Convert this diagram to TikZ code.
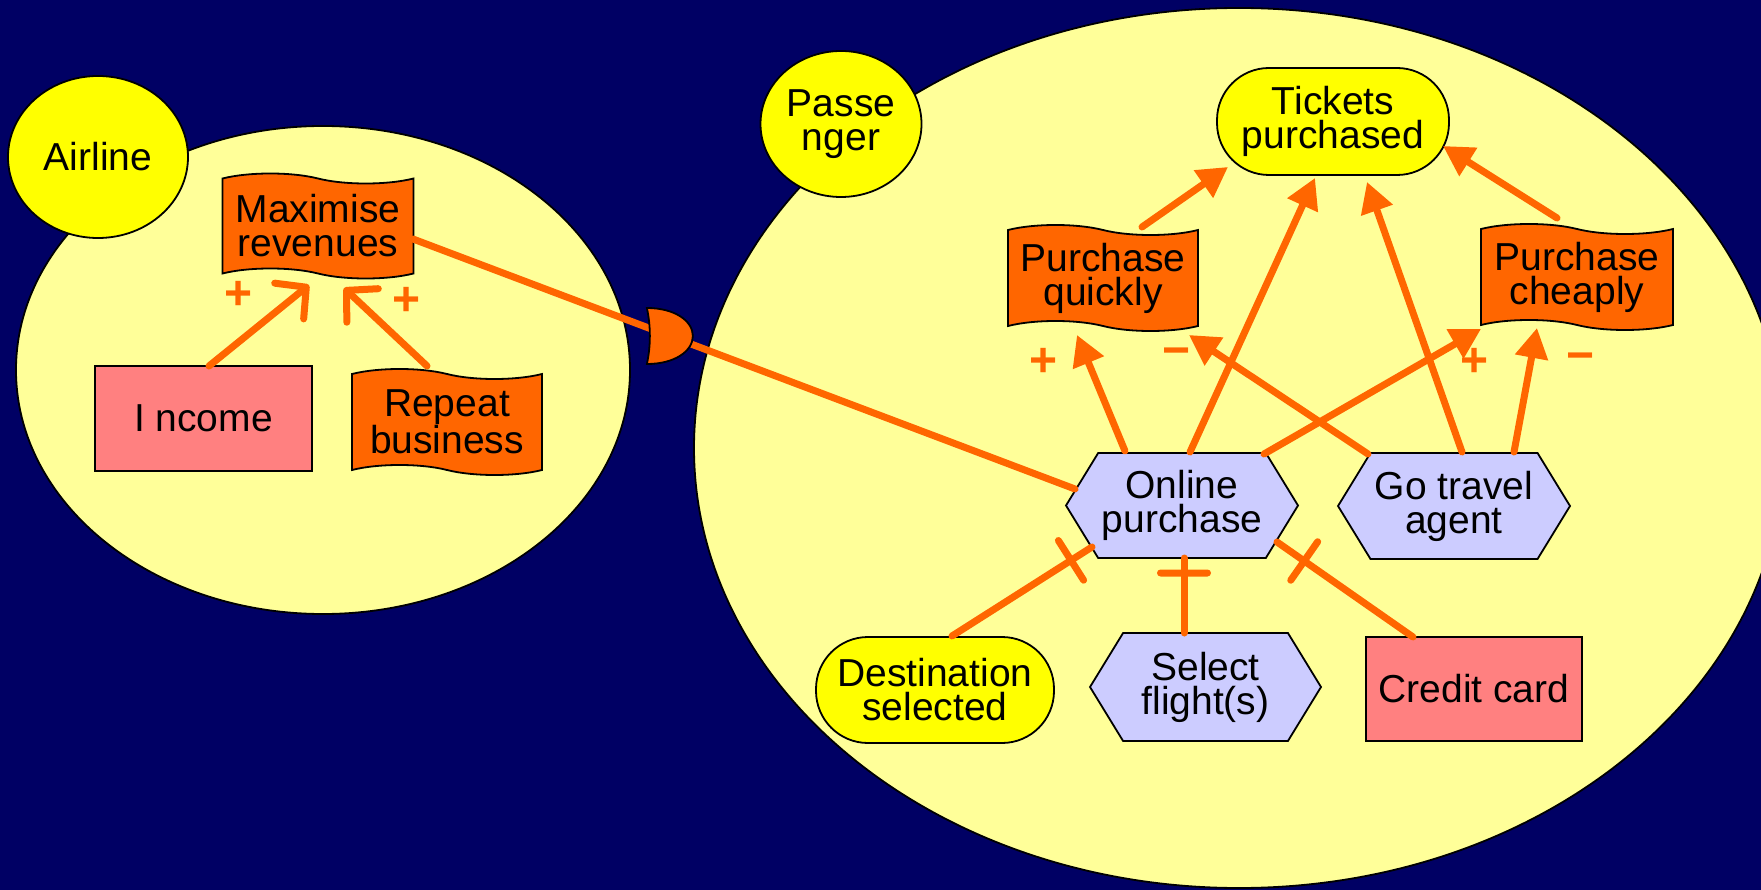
\documentclass[tikz,border=0pt]{standalone}
\usepackage{fontspec}
\setmainfont{Liberation Sans}
\usetikzlibrary{arrows.meta,shapes.geometric,shapes.symbols,shapes.misc,calc}
\definecolor{navy}{RGB}{0,0,100}
\definecolor{paleyellow}{RGB}{255,255,153}
\definecolor{brightyellow}{RGB}{255,255,0}
\definecolor{goalorange}{RGB}{255,102,0}
\definecolor{lilac}{RGB}{204,204,255}
\definecolor{salmon}{RGB}{255,128,128}

\begin{document}
\begin{tikzpicture}[x=1pt,y=-1pt,
  txt/.style={font=\fontsize{39}{34}\selectfont, align=center, text=black},
  outline/.style={draw=black, line width=1.8pt},
  actor/.style={ellipse, outline, fill=brightyellow, txt, inner sep=0pt},
  boundary/.style={ellipse, outline, fill=paleyellow, inner sep=0pt},
  softgoal/.style={tape, tape bend top=out and in, tape bend bottom=out and in,
    tape bend height=10pt, outline, fill=goalorange, txt, inner sep=0pt},
  resource/.style={rectangle, outline, fill=salmon, txt, inner sep=0pt},
  task/.style={signal, signal to=east and west, signal from=nowhere,
    signal pointer angle=117, outline, fill=lilac, txt, inner sep=0pt},
  goal/.style={rectangle, rounded corners=52pt, outline, fill=brightyellow, txt, inner sep=0pt},
  link/.style={draw=goalorange, line width=7pt, line cap=round},
  contrib/.style={link, -{Triangle[length=30pt,width=32pt]}},
  means/.style={link, -{Straight Barb[length=22pt,width=46pt,round]}},
  crossbar/.style={rectangle, fill=goalorange, minimum width=7pt, minimum height=54pt,
    inner sep=0pt, rounded corners=3.5pt, sloped},
  sign/.style={text=goalorange, font=\fontsize{48}{48}\selectfont\bfseries, inner sep=0pt},
]
\useasboundingbox (0,0) rectangle (1761,890);
\clip (0,0) rectangle (1761,890);
\fill[navy] (0,0) rectangle (1761,890);

% actor boundaries
\node[boundary, minimum width=614pt, minimum height=488pt] (airlineB) at (323,370) {};
\node[actor, minimum width=180pt, minimum height=162pt] (airline) at (98,157) {Airline};
\node[boundary, minimum width=1090pt, minimum height=880pt] (passengerB) at (1239,448) {};
\node[actor, minimum width=161pt, minimum height=146pt] (passenger) at (841,124) {Passe\\nger};

% airline elements
\node[softgoal, minimum width=191pt, minimum height=105pt] (maxrev) at (318,226) {Maximise\\revenues};
\node[resource, minimum width=217pt, minimum height=105pt] (income) at (203.5,418.5) {I ncome};
\node[softgoal, minimum width=190pt, minimum height=106pt] (repeat) at (447,422) {Repeat\\business};

% passenger elements
\node[goal, minimum width=232pt, minimum height=107pt] (tickets) at (1333,121.5) {Tickets\\purchased};
\node[softgoal, minimum width=190pt, minimum height=106pt] (quick) at (1103,278) {Purchase\\quickly};
\node[softgoal, minimum width=192pt, minimum height=106pt] (cheap) at (1577,277) {Purchase\\cheaply};
\node[task, minimum width=232pt, minimum height=105pt] (online) at (1182,505.5) {Online\\purchase};
\node[task, minimum width=232pt, minimum height=106pt] (agent) at (1454,506) {Go travel\\agent};
\node[goal, minimum width=238pt, minimum height=106pt] (dest) at (935,690) {Destination\\selected};
\node[task, minimum width=231pt, minimum height=108pt] (select) at (1205.5,687) {Select\\flight(s)};
\node[resource, minimum width=216pt, minimum height=104pt] (card) at (1474,689) {Credit card};

% airline contributions
\draw[means] ($(income)+(5.5,-52.5)$) -- ($(maxrev)+(-9,59)$);
\draw[means] ($(repeat)+(-20,-56)$) -- ($(maxrev)+(26,62)$);
\node[sign] (p1) at (239,295) {+};
\node[sign] (p2) at (407,301) {+};

% dependency between the actors
\coordinate (depfrom) at ($(maxrev)+(95,13)$);
\coordinate (depto) at ($(online)+(-107,-16.5)$);
\draw[link] (depfrom) -- (depto);
\coordinate (dep) at ($(depfrom)!0.388!(depto)$);
\filldraw[fill=goalorange, draw=black, line width=1.8pt, shift={(dep)}]
  (-23,-28) .. controls (5,-28) and (23,-15) .. (23,0)
  .. controls (23,15) and (5,28) .. (-23,28)
  .. controls (-19,10) and (-19,-10) .. cycle;

% passenger contributions
\draw[contrib] ($(quick)+(39,-51)$) -- ($(tickets)+(-105,45.5)$);
\draw[contrib] ($(online)+(8,-53.5)$) -- ($(tickets)+(-18,56.5)$);
\draw[contrib] ($(agent)+(8,-54)$) -- ($(tickets)+(34,60.5)$);
\draw[contrib] ($(cheap)+(-20,-59)$) -- ($(tickets)+(110,24.5)$);
\draw[contrib] ($(online)+(-57,-54.5)$) -- ($(quick)+(-26,57)$);
\draw[contrib] ($(agent)+(-86,-52)$) -- ($(quick)+(86,57)$);
\draw[contrib] ($(online)+(82,-51.5)$) -- ($(cheap)+(-96,52)$);
\draw[contrib] ($(agent)+(60,-54)$) -- ($(cheap)+(-40,51)$);
\node[sign] (p3) at (1044,362) {+};
\node[sign] (m1) at (1177,357) {−};
\node[sign] (p4) at (1474,362) {+};
\node[sign] (m2) at (1580,362) {−};

% task decomposition
\draw[link] ($(dest)+(17,-54)$) -- ($(online)+(-90,41.5)$) node[crossbar, pos=0.85] {};
\draw[link] ($(select)+(-21.5,-54)$) -- ($(online)+(2,52.5)$) node[crossbar, pos=0.8] {};
\draw[link] ($(card)+(-61,-52)$) -- ($(online)+(95,36.5)$) node[crossbar, pos=0.8] {};
\end{tikzpicture}
\end{document}
